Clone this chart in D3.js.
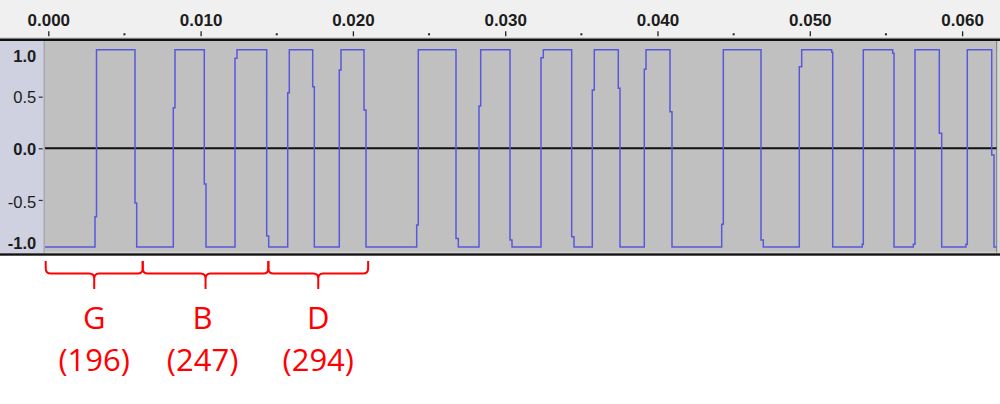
<!DOCTYPE html>
<html>
<head>
<meta charset="utf-8">
<script src="https://cdn.jsdelivr.net/npm/d3@7/dist/d3.min.js"></script>
<style>
  html, body { margin: 0; padding: 0; background: #ffffff; }
  svg { display: block; }
</style>
</head>
<body>
<svg id="chart" width="1000" height="404"></svg>
<script>
// ---- data ----
const timeTicks = [0, 0.01, 0.02, 0.03, 0.04, 0.05, 0.06];
const timeTickLabels = ["0.000", "0.010", "0.020", "0.030", "0.040", "0.050", "0.060"];
const minorTicks = [0.005, 0.015, 0.025, 0.035, 0.045, 0.055];
const ampTicks = [1.0, 0.5, 0.0, -0.5, -1.0];
const ampTickLabels = ["1.0", "0.5", "0.0", "-0.5", "-1.0"];

const startTime = -0.000217;
const endTime = 0.06227;
const levelHigh = 0.955;
const levelLow = -0.955;
// each transition: starts at edgeStart, holds an intermediate kink value until edgeEnd
const edgeStart = [0.003066, 0.005693, 0.008207, 0.010243, 0.012259, 0.014340, 0.015719, 0.017360, 0.019107, 0.020729,
                   0.024189, 0.026770, 0.028280, 0.030315, 0.032350, 0.034366, 0.035719, 0.037426, 0.039133, 0.040821,
                   0.044215, 0.046796, 0.049310, 0.051438, 0.053447, 0.055443, 0.056796, 0.058503, 0.060256, 0.061944];
const edgeEnd   = [0.003165, 0.005804, 0.008319, 0.010355, 0.012390, 0.014471, 0.015824, 0.017466, 0.019219, 0.020860,
                   0.024294, 0.026921, 0.028391, 0.030447, 0.032502, 0.034517, 0.035850, 0.037538, 0.039245, 0.040952,
                   0.044320, 0.046947, 0.049468, 0.051504, 0.053513, 0.055529, 0.056907, 0.058660, 0.060341, 0.062095];
const kinkValue = [-0.662, -0.53, 0.393, -0.346, 0.872, -0.849, 0.538, 0.597, 0.758, 0.371,
                   -0.743, -0.872, 0.41, -0.888, 0.877, -0.856, 0.565, 0.581, 0.765, 0.354,
                   -0.736, -0.888, 0.79, 0.93, -0.93, 0.92, -0.93, 0.145, -0.93, -0.065];

const noteNames = ["G", "B", "D"];
const noteFreqs = ["(196)", "(247)", "(294)"];
const noteStart = [-0.00017, 0.00620, 0.01445];
const noteEnd   = [0.00620, 0.01445, 0.02100];

// ---- layout ----
const svg = d3.select("#chart");
const W = 1000;
const plotL = 45, plotR = 996.5, plotT = 41, plotB = 253;

const x = d3.scaleLinear().domain([0, 0.06]).range([48.3, 962.1]);
const y = d3.scaleLinear().domain([-1, 1]).range([251.6, 45]);

// ruler background
svg.append("rect").attr("x", 0).attr("y", 0).attr("width", W).attr("height", 38.5).attr("fill", "#f0f0f0");
svg.append("rect").attr("x", 0).attr("y", 37).attr("width", W).attr("height", 1.5).attr("fill", "#d8d8d8");

// left vertical ruler panel
svg.append("rect").attr("x", 0).attr("y", plotT).attr("width", plotL).attr("height", plotB - plotT).attr("fill", "#cfd0e0");
svg.append("rect").attr("x", plotL - 1.5).attr("y", plotT).attr("width", 1.5).attr("height", plotB - plotT).attr("fill", "#a8a8b4");

// plot background
svg.append("rect").attr("x", plotL).attr("y", plotT).attr("width", plotR - plotL).attr("height", plotB - plotT).attr("fill", "#c0c0c0");
// right strip
svg.append("rect").attr("x", plotR).attr("y", plotT).attr("width", W - plotR).attr("height", plotB - plotT).attr("fill", "#d6d6d6");
svg.append("rect").attr("x", plotR - 0.5).attr("y", plotT).attr("width", 1.2).attr("height", plotB - plotT).attr("fill", "#8a8a8a");
// light inner border bottom
svg.append("rect").attr("x", plotL).attr("y", plotB - 1.5).attr("width", plotR - plotL).attr("height", 1.5).attr("fill", "#d0d0d0");

// black separators
svg.append("rect").attr("x", 0).attr("y", 38.5).attr("width", W).attr("height", 2.5).attr("fill", "#111");
svg.append("rect").attr("x", 0).attr("y", 253.3).attr("width", W).attr("height", 2.4).attr("fill", "#111");

// top time axis
const topAxis = d3.axisTop(x).tickValues(timeTicks).tickFormat((d, i) => timeTickLabels[i]).tickSize(5).tickPadding(5);
const gTop = svg.append("g").attr("transform", "translate(0,36.3)").call(topAxis);
gTop.select(".domain").remove();
gTop.selectAll(".tick line").attr("stroke", "#222").attr("stroke-width", 1.3);
gTop.selectAll(".tick text")
  .attr("font-family", "'Liberation Sans', Arial, sans-serif")
  .attr("font-weight", "bold").attr("font-size", "17px").attr("fill", "#1c1c1c");
gTop.selectAll(".tick text").attr("y", null).attr("dy", null).attr("transform", "translate(0,-10)");

svg.append("g").selectAll("rect.minor").data(minorTicks).join("rect")
  .attr("x", d => x(d) - 1).attr("y", 33.3).attr("width", 2).attr("height", 2).attr("fill", "#222");

// left amplitude axis
const leftAxis = d3.axisLeft(y).tickValues(ampTicks).tickFormat((d, i) => ampTickLabels[i]).tickSize(4).tickPadding(3);
const gLeft = svg.append("g").attr("transform", "translate(42.7,0)").call(leftAxis);
gLeft.select(".domain").remove();
gLeft.selectAll(".tick line").attr("stroke", "#333").attr("stroke-width", 1.2)
  .attr("display", d => (Math.abs(d) === 1 ? "none" : null));
gLeft.selectAll(".tick text")
  .attr("font-family", "'Liberation Sans', Arial, sans-serif")
  .attr("font-size", "16.5px").attr("fill", "#1c1c1c")
  .attr("font-weight", d => (d === 0 || Math.abs(d) === 1 ? "bold" : "normal"))
  .attr("x", -6.5)
  .attr("dy", d => (d === 1 ? "1.0em" : d === -1 ? "-0.2em" : d === -0.5 ? "0.45em" : "0.35em"));

// waveform
const pts = [[startTime, levelLow]];
let level = levelLow;
edgeStart.forEach((t0, i) => {
  const next = level < 0 ? levelHigh : levelLow;
  pts.push([t0, level], [t0, kinkValue[i]], [edgeEnd[i], kinkValue[i]], [edgeEnd[i], next]);
  level = next;
});
pts.push([endTime, level]);

svg.append("clipPath").attr("id", "clip").append("rect")
  .attr("x", plotL).attr("y", plotT).attr("width", plotR - plotL).attr("height", plotB - plotT);

// zero line
svg.append("line").attr("x1", plotL).attr("x2", plotR).attr("y1", y(0)).attr("y2", y(0))
  .attr("stroke", "#111").attr("stroke-width", 2);

svg.append("path")
  .attr("clip-path", "url(#clip)")
  .attr("d", d3.line().x(d => x(d[0])).y(d => y(d[1]))(pts))
  .attr("fill", "none").attr("stroke", "#5858dd").attr("stroke-width", 1.5);

// braces + labels
const braceTop = 261, braceMid = 273.5, braceTip = 289;
const g = svg.append("g");
noteNames.forEach((name, i) => {
  const a = x(noteStart[i]), b = x(noteEnd[i]), m = (a + b) / 2;
  const r = 5;
  const p = `M${a},${braceTop} L${a},${braceMid - r} Q${a},${braceMid} ${a + r},${braceMid} ` +
            `L${m - r},${braceMid} Q${m},${braceMid} ${m},${braceMid + r} L${m},${braceTip} ` +
            `M${m},${braceMid + r} Q${m},${braceMid} ${m + r},${braceMid} L${b - r},${braceMid} ` +
            `Q${b},${braceMid} ${b},${braceMid - r} L${b},${braceTop}`;
  g.append("path").attr("d", p).attr("fill", "none").attr("stroke", "#ff0000").attr("stroke-width", 2);
  g.append("text").attr("x", m - (i === 1 ? 3 : 0)).attr("y", 329).attr("text-anchor", "middle")
    .attr("font-family", "'Open Sans', sans-serif").attr("font-size", "31px").attr("fill", "#ff0000").text(name);
  g.append("text").attr("x", m - (i === 1 ? 3 : 0)).attr("y", 371).attr("text-anchor", "middle")
    .attr("font-family", "'Open Sans', sans-serif").attr("font-size", "31px").attr("fill", "#ff0000").text(noteFreqs[i]);
});
</script>
</body>
</html>
